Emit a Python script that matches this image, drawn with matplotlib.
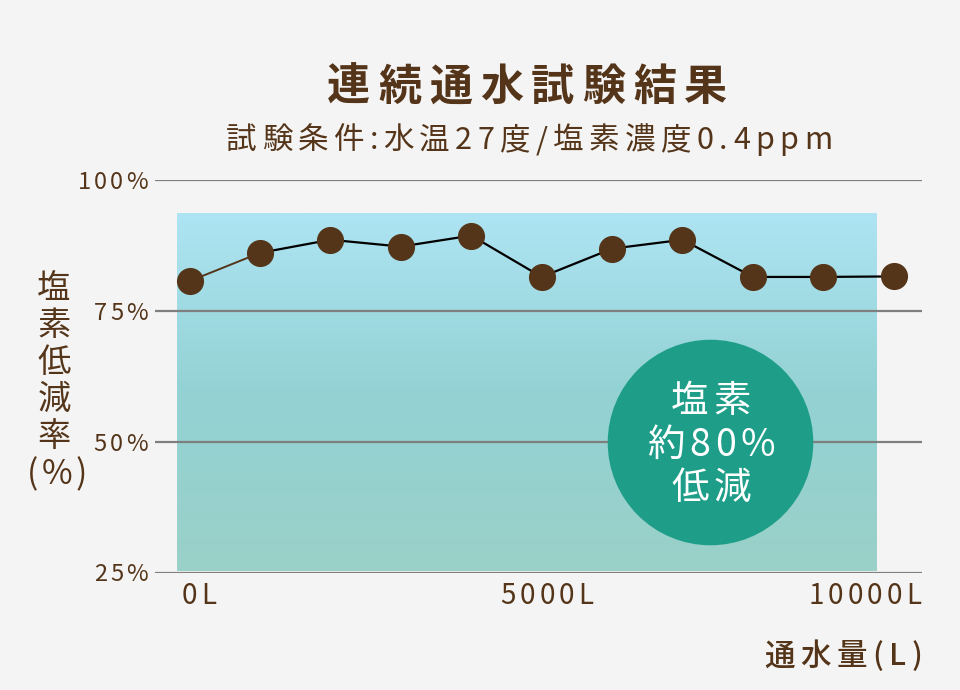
import numpy as np
import matplotlib.pyplot as plt
from matplotlib.colors import LinearSegmentedColormap
from matplotlib.transforms import IdentityTransform

plt.rcParams['font.family'] = ['Noto Sans CJK JP', 'DejaVu Sans']

# data
volume = [0, 1000, 2000, 3000, 4000, 5000, 6000, 7000, 8000, 9000, 10000]
reduction = [80.7, 86.1, 88.6, 87.3, 89.4, 81.5, 86.9, 88.6, 81.5, 81.5, 81.6]
y_ticks = [25, 50, 75, 100]
y_labels = ["25%", "50%", "75%", "100%"]
x_ticks = [0, 5000, 10000]
x_labels = ["0L", "5000L", "10000L"]

brown = "#553519"
bg = "#f4f4f4"
W, H = 960, 690

fig = plt.figure(figsize=(9.6, 6.9), dpi=100, facecolor=bg)
ax = fig.add_axes([0.1615, 0.170, 0.799, 0.569], facecolor=bg)
ax.set_xlim(-491, 10403)
ax.set_ylim(25, 100)
renderer = fig.canvas.get_renderer()


def spaced(x, y, s, size, track, ha="center", color=brown, **kw):
    # text with letter spacing; x, y in pixels from the top-left corner,
    # y is the visual middle of the line
    prefix = [0.0]
    for i in range(1, len(s) + 1):
        t = fig.text(0, 0, s[:i], fontsize=size, **kw)
        prefix.append(t.get_window_extent(renderer).width)
        t.remove()
    total = prefix[-1] + track * (len(s) - 1)
    x0 = {"left": x, "center": x - total / 2, "right": x - total}[ha]
    base = H - y - 0.37 * size * 100 / 72
    for i, ch in enumerate(s):
        fig.text(x0 + prefix[i] + track * i, base, ch, fontsize=size, color=color,
                 ha="left", va="baseline", transform=IdentityTransform(),
                 zorder=10, **kw)


# gradient panel
cmap = LinearSegmentedColormap.from_list("g", ["#9ad0c8", "#93d2d4", "#aee4f3"])
grad = np.linspace(0, 1, 256).reshape(-1, 1)
ax.imshow(grad, extent=[-180, 9760, 25.3, 93.5], origin="lower", cmap=cmap,
          aspect="auto", zorder=1)

for y in y_ticks:
    ax.axhline(y, color="#7f7f7f", lw=1.6, zorder=2)

# callout circle
ax.scatter([7390], [50], s=148**2, color="#1e9e89", zorder=3, linewidths=0)

# line + points
ax.plot(volume[:2], reduction[:2], color=brown, lw=1.4, zorder=5)
ax.plot(volume[1:], reduction[1:], color="black", lw=1.6, zorder=5)
ax.plot(volume, reduction, "o", color=brown, ms=18.5, zorder=6)

for s in ax.spines.values():
    s.set_visible(False)
ax.set_xticks([])
ax.set_yticks([])

# circle text
for line, yy in zip(["塩素", "約80%", "低減"], [398, 442, 485]):
    spaced(711, yy, line, 27, 5, color="white")

# y tick labels
for v, lab in zip(y_ticks, y_labels):
    ypix = H - ax.transData.transform((0, v))[1]
    spaced(148, ypix, lab, 17, 3.2, ha="right")

# x tick labels
spaced(182, 594, x_labels[0], 20, 4, ha="left")
spaced(547, 594, x_labels[1], 20, 4, ha="center")
spaced(921, 594, x_labels[2], 20, 4, ha="right")

# axis titles
spaced(922, 654, "通水量(L)", 22, 5.5, ha="right", fontweight="medium")
for i, ch in enumerate("塩素低減率"):
    spaced(54, 286 + 37 * i, ch, 24, 0)
spaced(57, 472, "(%)", 24, 3)

# titles
spaced(527, 84, "連続通水試験結果", 31, 8, fontweight="bold")
spaced(529, 138, "試験条件:水温27度/塩素濃度0.4ppm", 22, 5.4)

fig.savefig("out.png", dpi=100, facecolor=bg)
